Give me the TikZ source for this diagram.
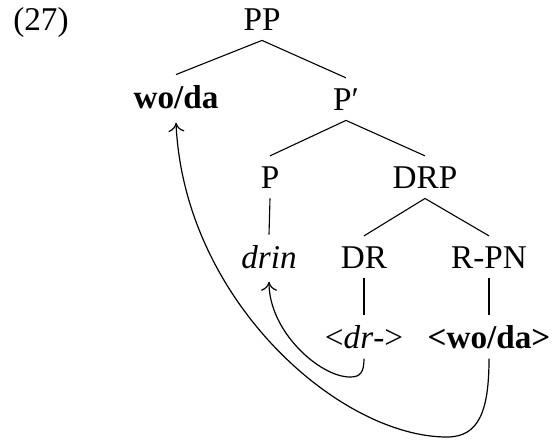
\documentclass[tikz,border=0pt]{standalone}
\usepackage{fontspec}
\setmainfont{Liberation Serif}
\usepackage{tikz}
\usetikzlibrary{arrows.meta}

\begin{document}
\begin{tikzpicture}[
  x=0.5pt, y=-0.5pt,
  font=\fontsize{16.6}{20}\selectfont,
  lbl/.style={anchor=base, inner sep=5pt},
  br/.style={line width=0.55pt},
  mv/.style={-{To[length=4.5pt,width=8pt]}, line width=0.6pt}
]
\useasboundingbox (0,0) rectangle (555,439);

\node[lbl] (ex) at (41,30) {(27)};

% tree
\node[lbl] (pp)   at (262,30)  {PP};
\node[lbl] (woda) at (176,108) {\textbf{wo/da}};
\node[lbl] (pbar) at (346,110) {P′};
\node[lbl] (p)    at (270,188) {P};
\node[lbl] (drp)  at (425,188) {DRP};
\node[lbl] (drin) at (269,268) {\textit{drin}};
\node[lbl] (dr)   at (364,268) {DR};
\node[lbl] (rpn)  at (489,268) {R-PN};
\node[lbl] (drtr) at (364,348) {<\textit{dr}->};
\node[lbl] (wdtr) at (489,348) {\textbf{<wo/da>}};

\draw[br] (pp.south) -- (woda.north);
\draw[br] (pp.south) -- (pbar.north);
\draw[br] (pbar.south) -- (p.north);
\draw[br] (pbar.south) -- (drp.north);
\draw[br] (p.south) -- (drin.north);
\draw[br] (drp.south) -- (dr.north);
\draw[br] (drp.south) -- (rpn.north);
\draw[br] (dr.south) -- (drtr.north);
\draw[br] (rpn.south) -- (wdtr.north);

% movement arrows
\coordinate (lowa) at (350,377);
\coordinate (lowb) at (447,437);
\draw[mv] (drtr.south) .. controls +(0,14) and +(10,0) .. (lowa)
  .. controls +(-30,0) and +(0,50) .. ([yshift=-1.5pt]drin.south);
\draw[mv] (wdtr.south) .. controls +(0,52) and +(32,0) .. (lowb)
  .. controls +(-107,0) and +(8,178) .. ([yshift=-2pt]woda.south);

\end{tikzpicture}
\end{document}
